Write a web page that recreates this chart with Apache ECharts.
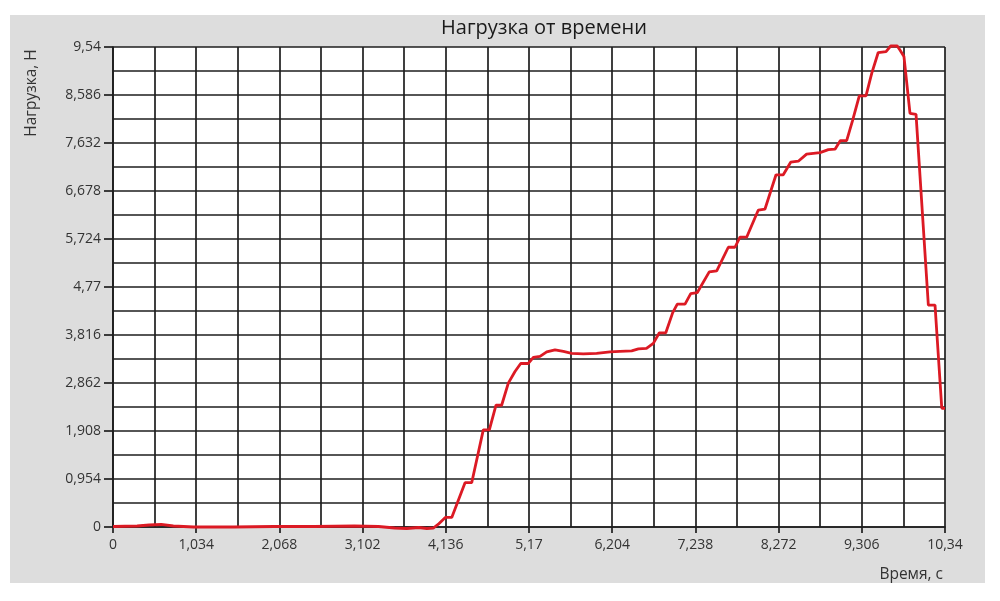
<!DOCTYPE html>
<html>
<head>
<meta charset="utf-8">
<script src="https://cdn.jsdelivr.net/npm/echarts@6/dist/echarts.min.js"></script>
<style>
html,body{margin:0;padding:0;background:#fff;}
#chart{width:1000px;height:601px;}
</style>
</head>
<body>
<div id="chart"></div>
<script>
var chartTitle = 'Нагрузка от времени';
var xAxisName = 'Время, с';
var yAxisName = 'Нагрузка, Н';

var times = [0, 0.3, 0.45, 0.6, 0.75, 1.0, 1.5, 2.0, 2.5, 3.0, 3.3, 3.5, 3.65, 3.8, 3.9, 3.98,
  4.04, 4.13, 4.21, 4.375, 4.458, 4.602, 4.677, 4.76, 4.83, 4.913, 4.996, 5.067, 5.162, 5.224,
  5.307, 5.39, 5.493, 5.597, 5.70, 5.845, 6.01, 6.177, 6.30, 6.446, 6.53, 6.63, 6.715, 6.79,
  6.87, 6.956, 7.013, 7.109, 7.18, 7.262, 7.41, 7.503, 7.647, 7.73, 7.792, 7.875, 8.02, 8.103,
  8.24, 8.33, 8.422, 8.517, 8.62, 8.787, 8.89, 8.973, 9.04, 9.118, 9.19, 9.275, 9.358, 9.43,
  9.51, 9.607, 9.665, 9.747, 9.78, 9.83, 9.905, 9.98, 10.133, 10.216, 10.30, 10.34];
var loads = [0.01, 0.02, 0.04, 0.05, 0.02, 0.0, 0.0, 0.01, 0.01, 0.02, 0.01, -0.02, -0.03, -0.01, -0.03, -0.02,
  0.05, 0.19, 0.19, 0.88, 0.88, 1.93, 1.93, 2.42, 2.42, 2.86, 3.09, 3.25, 3.25, 3.37,
  3.39, 3.48, 3.52, 3.49, 3.45, 3.44, 3.45, 3.48, 3.49, 3.50, 3.54, 3.55, 3.65, 3.86,
  3.86, 4.26, 4.43, 4.43, 4.64, 4.66, 5.07, 5.09, 5.56, 5.56, 5.76, 5.76, 6.30, 6.32,
  7.00, 7.00, 7.25, 7.27, 7.41, 7.44, 7.50, 7.51, 7.68, 7.68, 8.07, 8.57, 8.57, 9.02,
  9.43, 9.45, 9.56, 9.56, 9.48, 9.35, 8.22, 8.20, 4.41, 4.41, 2.36, 2.36];

var xMin = 0, xMax = 10.34, xStep = 1.034;
var yMin = 0, yMax = 9.54, yStep = 0.954;

function fmt(v) {
  var s = (Math.round(v * 1000) / 1000).toFixed(3).replace(/\.?0+$/, '');
  if (s === '' || s === '-0') s = '0';
  return s.replace('.', ',');
}

var points = times.map(function (t, i) { return [t, loads[i]]; });

var font = '"Open Sans", "Noto Sans", sans-serif';
var gridLine = { color: '#1e1e1e', width: 1.7 };

var chart = echarts.init(document.getElementById('chart'));
chart.setOption({
  animation: false,
  backgroundColor: '#ffffff',
  graphic: [
    { type: 'rect', z: -10, shape: { x: 10, y: 15, width: 975, height: 568 }, style: { fill: '#dddddd' } },
    { type: 'text', x: 544, y: 28, style: { text: chartTitle, font: '20px ' + font, fill: '#1a1a1a', textAlign: 'center', textVerticalAlign: 'middle' } },
    { type: 'text', x: 32, y: 93, rotation: Math.PI / 2, style: { text: yAxisName, font: '15.5px ' + font, fill: '#333', textAlign: 'center', textVerticalAlign: 'middle' } },
    { type: 'text', x: 943, y: 575, style: { text: xAxisName, font: '15.5px ' + font, fill: '#333', textAlign: 'right', textVerticalAlign: 'middle' } }
  ],
  grid: { left: 113, right: 55, top: 47, bottom: 74, show: true, backgroundColor: '#ffffff', borderWidth: 0 },
  xAxis: {
    type: 'value', min: xMin, max: xMax, interval: xStep,
    axisLine: { show: true, lineStyle: { color: '#1e1e1e', width: 1.7 } },
    axisTick: { show: true, length: 6, lineStyle: { color: '#1e1e1e', width: 1.7 } },
    axisLabel: { color: '#333', fontSize: 14, fontFamily: font, margin: 11, formatter: fmt, showMinLabel: true, showMaxLabel: true },
    splitLine: { show: true, lineStyle: gridLine },
    minorTick: { show: false, splitNumber: 2 },
    minorSplitLine: { show: true, lineStyle: gridLine }
  },
  yAxis: {
    type: 'value', min: yMin, max: yMax, interval: yStep,
    axisLine: { show: true, lineStyle: { color: '#1e1e1e', width: 1.7 } },
    axisTick: { show: true, length: 9, lineStyle: { color: '#1e1e1e', width: 1.7 } },
    axisLabel: { color: '#333', fontSize: 14, fontFamily: font, margin: 12, formatter: fmt, showMinLabel: true, showMaxLabel: true },
    splitLine: { show: true, lineStyle: gridLine },
    minorTick: { show: false, splitNumber: 2 },
    minorSplitLine: { show: true, lineStyle: gridLine }
  },
  series: [{
    type: 'line',
    data: points,
    showSymbol: false,
    smooth: false,
    clip: false,
    lineStyle: { color: '#dc1a24', width: 2.8 },
    itemStyle: { color: '#dc1a24' },
    z: 5
  }]
});
</script>
</body>
</html>
